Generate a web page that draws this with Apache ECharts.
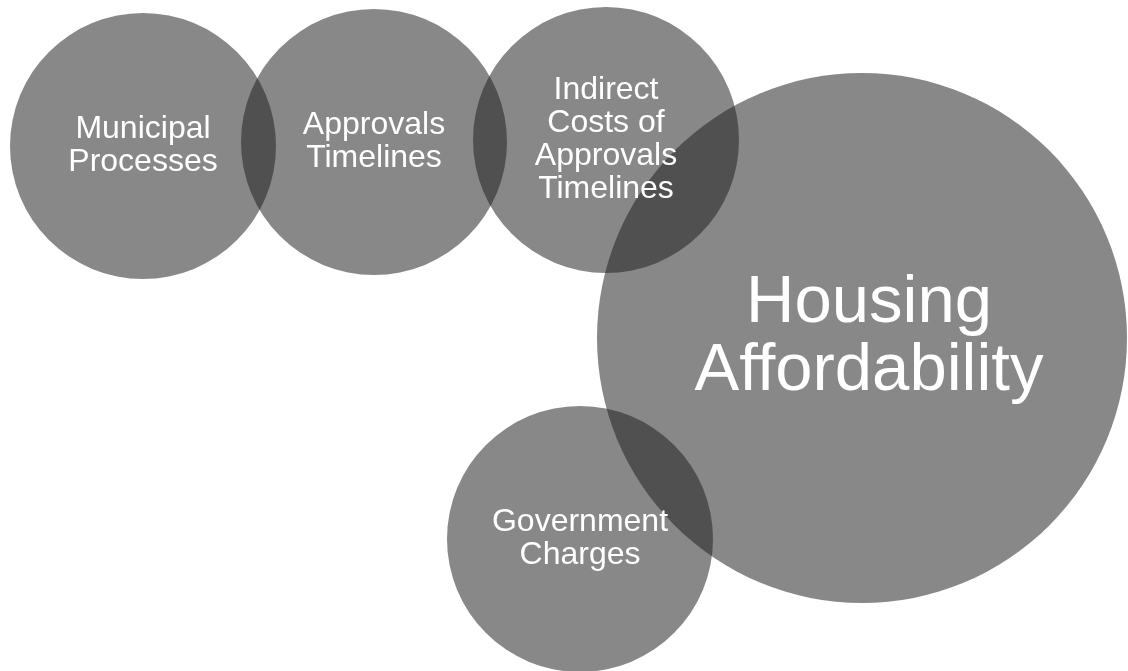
<!DOCTYPE html>
<html>
<head>
<meta charset="utf-8">
<script src="https://cdn.jsdelivr.net/npm/echarts@6/dist/echarts.min.js"></script>
<style>
  html, body { margin: 0; padding: 0; background: #fff; }
  #chart { width: 1128px; height: 671px; }
</style>
</head>
<body>
<div id="chart"></div>
<script>
// bubble labels, centres and radii (in page pixels)
const labels = [
    'Municipal\nProcesses',
    'Approvals\nTimelines',
    'Indirect\nCosts of\nApprovals\nTimelines',
    'Housing\nAffordability',
    'Government\nCharges'
];
const centerX = [143, 374, 606, 862, 580];
const centerY = [146, 142, 140, 338, 539];
const radius = [133, 133, 133, 265, 133];

const chart = echarts.init(document.getElementById('chart'));

const data = labels.map(function (name, i) {
    const big = radius[i] > 200;
    return {
        name: name,
        value: [centerX[i], centerY[i], radius[i]],
        label: {
            fontSize: big ? 67 : 32,
            lineHeight: big ? 68 : 33,
            // big label sits a little right of / below the bubble centre
            padding: big ? [6, 0, 0, 14] : [3, 0, 0, 0]
        }
    };
});

const option = {
    animation: false,
    grid: { left: 0, right: 0, top: 0, bottom: 0 },
    xAxis: { type: 'value', min: 0, max: 1128, show: false },
    yAxis: { type: 'value', min: 0, max: 671, inverse: true, show: false },
    series: [
        {
            type: 'scatter',
            silent: true,
            symbol: 'circle',
            symbolSize: function (val) {
                return val[2] * 2;
            },
            itemStyle: {
                // translucent fill so the overlaps come out darker
                color: 'rgba(30, 30, 30, 0.53)',
                opacity: 1
            },
            label: {
                show: true,
                position: 'inside',
                formatter: '{b}',
                color: '#ffffff',
                fontFamily: '"Liberation Sans", Arial, sans-serif',
                align: 'center',
                verticalAlign: 'middle'
            },
            labelLayout: { hideOverlap: false },
            data: data
        }
    ]
};
chart.setOption(option);
</script>
</body>
</html>
